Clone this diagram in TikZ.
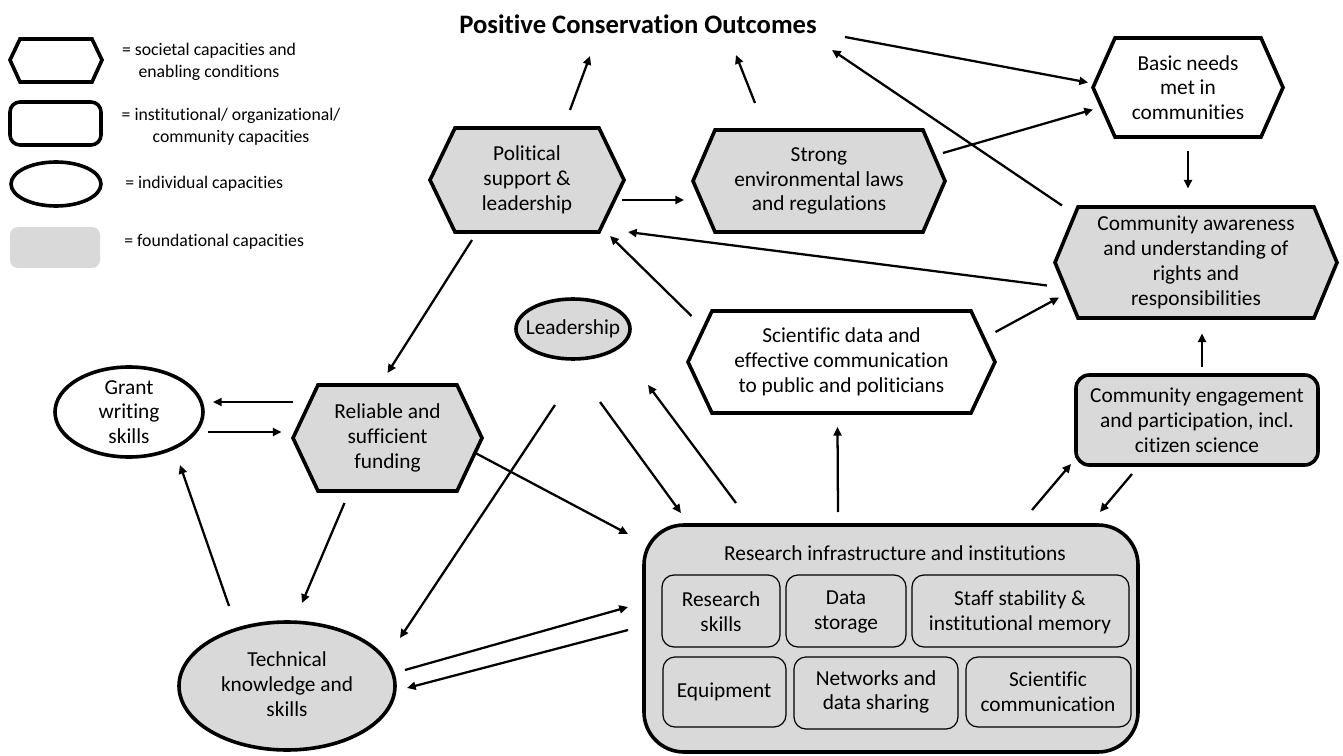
\documentclass[tikz,border=0pt]{standalone}
\usepackage{fontspec}
\setmainfont{Carlito}[RawFeature={-liga;-clig}]
\usetikzlibrary{arrows.meta,calc}
\definecolor{fgray}{HTML}{D9D9D9}
\tikzset{
  shapeline/.style={line width=2.7pt, line join=miter},
  subbox/.style={draw, line width=0.9pt, rounded corners=9pt, fill=fgray},
  txt/.style={align=center, inner sep=0pt, font=\fontsize{16}{18.6}\selectfont},
  legtxt/.style={align=center, inner sep=0pt, font=\fontsize{13.3}{16.5}\selectfont},
  arr/.style={line width=1.7pt, -{Triangle[length=6.5pt,width=6pt]}},
}
\newcommand{\hexnode}[8]{%
  \draw[shapeline, fill=#7] (#2,{(#4+#5)/2}) -- ({#2+#6},#4) -- ({#3-#6},#4) -- (#3,{(#4+#5)/2}) -- ({#3-#6},#5) -- ({#2+#6},#5) -- cycle;
  \node[txt] (#1) at ({(#2+#3)/2},{(#4+#5)/2}) {#8};}
\begin{document}
\begin{tikzpicture}[x=0.75pt,y=-0.75pt]
\useasboundingbox (0,0) rectangle (1343,756);

% legend
\draw[shapeline, fill=white] (10,60) -- (20,39) -- (92,39) -- (102,60) -- (92,82) -- (20,82) -- cycle;
\node[legtxt] (lg1) at (209,62) {= societal capacities and\\enabling conditions};
\draw[shapeline, rounded corners=7.5pt] (10,102) rectangle (101,145);
\node[legtxt] (lg2) at (231,127) {= institutional/ organizational/\\community capacities};
\draw[shapeline] (56,184) ellipse [x radius=33.75pt, y radius=16.5pt];
\node[legtxt, anchor=west] (lg3) at (125,184) {= individual capacities};
\fill[fgray, rounded corners=6pt] (10,227) rectangle (100,268);
\node[legtxt, anchor=west] (lg4) at (124,242) {= foundational capacities};

% title
\node[inner sep=0pt, font=\fontsize{20}{24}\selectfont\bfseries] (title) at (638,24) {Positive Conservation Outcomes};

% hexagons
\hexnode{pol}{430}{624}{128}{232}{25}{fgray}{Political\\support \&\\leadership}
\hexnode{law}{693}{945}{130}{232}{22}{fgray}{Strong\\environmental laws\\and regulations}
\hexnode{basic}{1093}{1283}{38}{137}{22}{white}{Basic needs\\met in\\communities}
\hexnode{aware}{1055}{1337}{207}{318}{23}{fgray}{Community awareness\\and understanding of\\rights and\\responsibilities}
\hexnode{sci}{688}{995}{311}{413}{24}{white}{Scientific data and\\effective communication\\to public and politicians}
\hexnode{fund}{293}{482}{385}{491}{25}{fgray}{Reliable and\\sufficient\\funding}

% rounded rectangle
\draw[shapeline, fill=fgray, rounded corners=10pt] (1076,375) rectangle (1318,465);
\node[txt] (engage) at (1197,420) {Community engagement\\and participation, incl.\\citizen science};

% ellipses
\draw[shapeline, fill=white] (129,412) ellipse [x radius=55.5pt, y radius=33.75pt];
\node[txt] (grant) at (129,412) {Grant\\writing\\skills};
\draw[shapeline, fill=fgray] (573,329) ellipse [x radius=42.75pt, y radius=22.5pt];
\node[txt] (lead) at (573,329) {Leadership};
\draw[shapeline, fill=fgray] (287,686) ellipse [x radius=81pt, y radius=48pt];
\node[txt] (tech) at (287,684) {Technical\\knowledge and\\skills};

% research infrastructure
\draw[shapeline, fill=fgray, rounded corners=30pt] (644,525) rectangle (1138,752);
\coordinate (res) at (891,638);
\node[txt] (restitle) at (895,553) {Research infrastructure and institutions};
\draw[subbox] (662,575) rectangle (780,647);
\node[txt] (rskill) at (721,612) {Research\\skills};
\draw[subbox] (786,575) rectangle (906,647);
\node[txt] (dstore) at (846,612) {Data\\storage};
\draw[subbox] (912,575) rectangle (1129,647);
\node[txt] (staff) at (1020,612) {Staff stability \&\\institutional memory};
\draw[subbox] (663,657) rectangle (786,727);
\node[txt] (equip) at (724,692) {Equipment};
\draw[subbox] (794,657) rectangle (958,729);
\node[txt] (netw) at (876,692) {Networks and\\data sharing};
\draw[subbox] (966,657) rectangle (1131,727);
\node[txt] (scom) at (1048,692) {Scientific\\communication};

% connectors
\draw[arr] ($(pol)+(43,-70)$) -- ($(title)+(-48,32)$);
\draw[arr] ($(law)+(-64,-78)$) -- ($(title)+(98,31)$);
\draw[arr] ($(title)+(207,13)$) -- ($(basic)+(-100,-5)$);
\draw[arr] ($(aware)+(-134,-57)$) -- ($(title)+(194,26)$);
\draw[arr] ($(law)+(124,-28)$) -- ($(basic)+(-95,22)$);
\draw[arr] ($(basic)+(0,64)$) -- ($(aware)+(-8,-74)$);
\draw[arr] ($(pol)+(95,20)$) -- ($(law)+(-135,19)$);
\draw[arr] ($(aware)+(-149,23)$) -- ($(pol)+(101,52)$);
\draw[arr] ($(sci)+(-150,-46)$) -- ($(pol)+(83,56)$);
\draw[arr] ($(sci)+(154,-30)$) -- ($(aware)+(-137,35)$);
\draw[arr] ($(pol)+(-55,60)$) -- ($(fund)+(0,-65)$);
\draw[arr] ($(fund)+(-95,-36)$) -- ($(grant)+(84,-10)$);
\draw[arr] ($(grant)+(79,20)$) -- ($(fund)+(-106,-6)$);
\draw[arr] ($(tech)+(-58,-78)$) -- ($(grant)+(51,53)$);
\draw[arr] ($(fund)+(-43,65)$) -- ($(tech)+(15,-81)$);
\draw[arr] ($(lead)+(-18,76)$) -- ($(tech)+(113,-46)$);
\draw[arr] ($(lead)+(27,73)$) -- ($(res)+(-210,-125)$);
\draw[arr] ($(res)+(-155,-135)$) -- ($(lead)+(75,56)$);
\draw[arr] ($(res)+(-53,-126)$) -- ($(sci)+(-4,65)$);
\draw[arr] ($(fund)+(86,14)$) -- ($(res)+(-263,-104)$);
\draw[arr] ($(tech)+(118,-14)$) -- ($(res)+(-263,-31)$);
\draw[arr] ($(res)+(-263,-8)$) -- ($(tech)+(120,4)$);
\draw[arr] ($(res)+(141,-128)$) -- ($(engage)+(-126,44)$);
\draw[arr] ($(engage)+(-65,54)$) -- ($(res)+(209,-126)$);
\draw[arr] ($(engage)+(5,-53)$) -- ($(aware)+(6,71)$);
\end{tikzpicture}
\end{document}
